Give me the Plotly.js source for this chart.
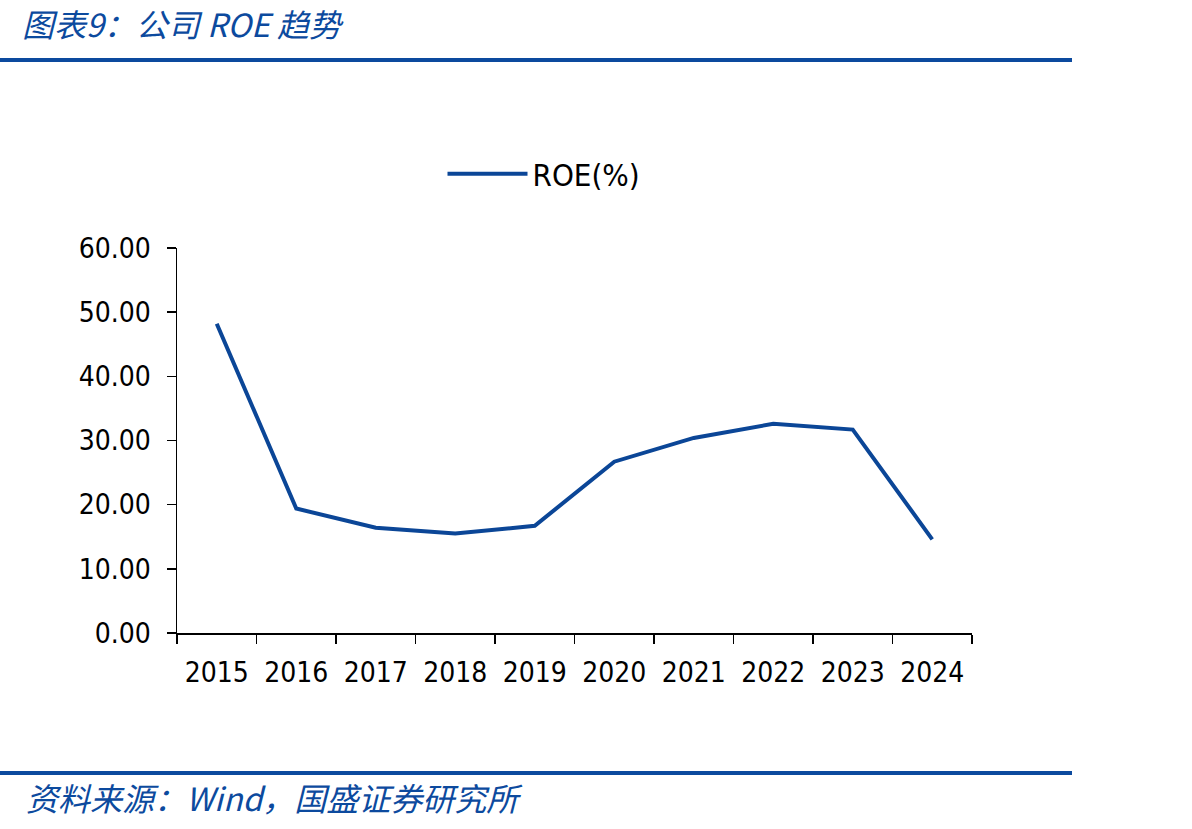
<!DOCTYPE html>
<html>
<head>
<meta charset="utf-8">
<script src="https://cdn.plot.ly/plotly-3.0.1.min.js"></script>
<style>html,body{margin:0;padding:0;background:#fff;}#chart{width:1192px;height:829px;}</style>
</head>
<body>
<div id="chart"></div>
<script>
const years = ['2015','2016','2017','2018','2019','2020','2021','2022','2023','2024'];
const roe = [48.2, 19.4, 16.4, 15.5, 16.7, 26.7, 30.4, 32.6, 31.7, 14.6];
const seriesName = 'ROE(%)';
const yTicks = [0, 10, 20, 30, 40, 50, 60];
const yTickLabels = ['0.00','10.00','20.00','30.00','40.00','50.00','60.00'];
const titleText = '图表9：公司 ROE 趋势';
const sourceText = '资料来源：Wind，国盛证券研究所';

const blue = '#0b4697';
const numFont = {family: '"DejaVu Sans Condensed", "DejaVu Sans", sans-serif', size: 28, color: '#000'};
const cjkFont = {family: '"Noto Sans CJK SC", sans-serif', size: 32, color: '#0c4a9e', style: 'italic'};

const W = 1192, H = 829;
const L = 177, R = 972, T = 248, B = 633;
const pw = R - L, ph = B - T;
const px = x => (x - L) / pw;
const py = y => (B - y) / ph;

const trace = {
  x: years, y: roe, type: 'scatter', mode: 'lines', name: seriesName,
  line: {color: blue, width: 4}
};

const layout = {
  width: W, height: H,
  margin: {l: L, r: W - R, t: T, b: H - B},
  paper_bgcolor: '#fff', plot_bgcolor: '#fff',
  showlegend: true,
  legend: {
    x: px(544), xanchor: 'center', y: py(174), yanchor: 'middle',
    font: {family: '"DejaVu Sans Condensed", "DejaVu Sans", sans-serif', size: 31, color: '#000'},
    bgcolor: 'rgba(0,0,0,0)', itemwidth: 80
  },
  title: {
    text: titleText, font: cjkFont,
    xref: 'container', yref: 'container',
    x: 22 / W, xanchor: 'left', y: 1 - 26 / H, yanchor: 'middle'
  },
  xaxis: {
    type: 'category', range: [-0.5, 9.5],
    showline: true, linecolor: '#000', linewidth: 1.5,
    ticks: 'outside', tickson: 'boundaries', ticklen: 9, tickwidth: 1.5, tickcolor: '#000',
    ticklabelstandoff: 14,
    showgrid: false, zeroline: false,
    tickfont: numFont, fixedrange: true
  },
  yaxis: {
    range: [0, 60], tickvals: yTicks, ticktext: yTickLabels,
    showline: true, linecolor: '#000', linewidth: 1.5,
    ticks: 'outside', ticklen: 9, tickwidth: 1.5, tickcolor: '#000',
    ticklabelstandoff: 10,
    showgrid: false, zeroline: false,
    tickfont: numFont, fixedrange: true
  },
  shapes: [
    {type: 'line', xref: 'paper', yref: 'paper', x0: px(0), x1: px(1072), y0: py(60), y1: py(60),
     line: {color: '#0c4a9e', width: 4}},
    {type: 'line', xref: 'paper', yref: 'paper', x0: px(0), x1: px(1072), y0: py(773), y1: py(773),
     line: {color: '#0c4a9e', width: 4}}
  ],
  annotations: [
    {text: sourceText, xref: 'paper', yref: 'paper', x: px(24), xanchor: 'left', y: py(797), yanchor: 'middle',
     showarrow: false, font: cjkFont}
  ]
};

Plotly.newPlot('chart', [trace], layout, {displayModeBar: false, staticPlot: true});
</script>
</body>
</html>
